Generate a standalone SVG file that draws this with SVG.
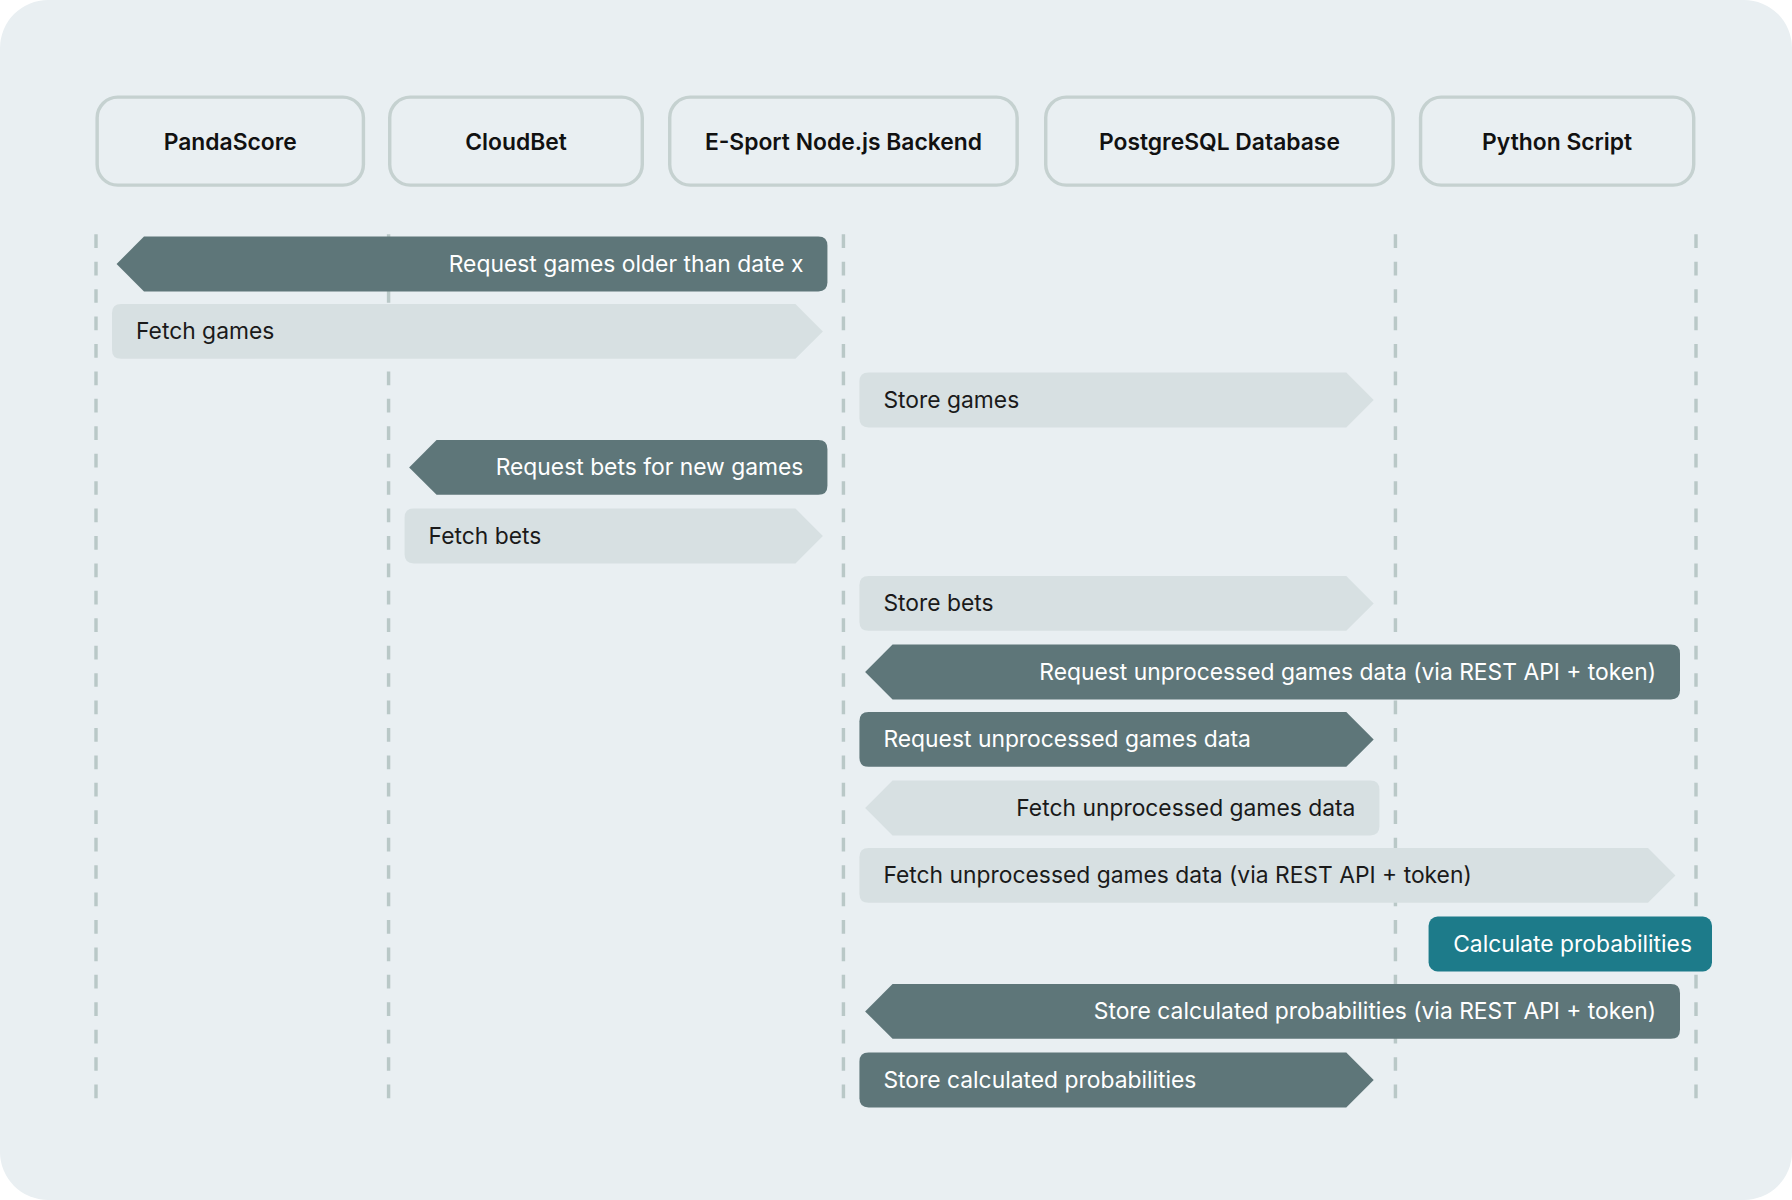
<svg xmlns="http://www.w3.org/2000/svg" width="1792" height="1200" viewBox="0 0 1792 1200">
<style>
.hdr{fill:none;stroke:#c5d1d0;stroke-width:3}
.ht{font-family:Inter,"Liberation Sans",sans-serif;font-size:20px;font-weight:600;fill:#111;text-anchor:middle}
.life{stroke:#b9c8c7;stroke-width:3;stroke-dasharray:12 12}
.dk{fill:#5e7679}
.lt{fill:#d7e0e2}
.tl{fill:#1d7b8a}
.t{font-family:Inter,"Liberation Sans",sans-serif;font-size:20px}
.w{fill:#fff}
.b{fill:#1a1a1a}
</style>
<rect width="1792" height="1200" fill="#fff"/>
<g transform="scale(1.142857)">
<rect x="0" y="0" width="1568" height="1050" rx="42" fill="#e9eff2"/>
<g id="n1"><rect class="hdr" x="85" y="85" width="233" height="77" rx="18"/><text class="ht" x="201.5" y="131">PandaScore</text></g>
<g id="n2"><rect class="hdr" x="341" y="85" width="221" height="77" rx="18"/><text class="ht" x="451.5" y="131">CloudBet</text></g>
<g id="n3"><rect class="hdr" x="586" y="85" width="304" height="77" rx="18"/><text class="ht" x="738" y="131">E-Sport Node.js Backend</text></g>
<g id="n4"><rect class="hdr" x="915" y="85" width="304" height="77" rx="18"/><text class="ht" x="1067" y="131">PostgreSQL Database</text></g>
<g id="n5"><rect class="hdr" x="1243" y="85" width="239" height="77" rx="18"/><text class="ht" x="1362.5" y="131">Python Script</text></g>
<g id="connectors">
<line class="life" x1="84" y1="205" x2="84" y2="968"/>
<line class="life" x1="340" y1="205" x2="340" y2="968"/>
<line class="life" x1="738" y1="205" x2="738" y2="968"/>
<line class="life" x1="1221" y1="205" x2="1221" y2="968"/>
<line class="life" x1="1484" y1="205" x2="1484" y2="968"/>
<!-- left-pointing: M x1,c L x1+24,c-24 H x2-8 Q x2,c-24 x2,c-16 V c+16 Q x2,c+24 x2-8,c+24 H x1+24 Z -->
<path class="dk" d="M102,231 L126,207 H716 Q724,207 724,215 V247 Q724,255 716,255 H126 Z"/>
<text class="t w" x="703" y="238" text-anchor="end">Request games older than date x</text>
<path class="lt" d="M106,266 H696 L720,290 L696,314 H106 Q98,314 98,306 V274 Q98,266 106,266 Z"/>
<text class="t b" x="119" y="297">Fetch games</text>
<path class="lt" d="M760,326 H1178 L1202,350 L1178,374 H760 Q752,374 752,366 V334 Q752,326 760,326 Z"/>
<text class="t b" x="773" y="357">Store games</text>
<path class="dk" d="M358,409 L382,385 H716 Q724,385 724,393 V425 Q724,433 716,433 H382 Z"/>
<text class="t w" x="703" y="416" text-anchor="end">Request bets for new games</text>
<path class="lt" d="M362,445 H696 L720,469 L696,493 H362 Q354,493 354,485 V453 Q354,445 362,445 Z"/>
<text class="t b" x="375" y="476">Fetch bets</text>
<path class="lt" d="M760,504 H1178 L1202,528 L1178,552 H760 Q752,552 752,544 V512 Q752,504 760,504 Z"/>
<text class="t b" x="773" y="535">Store bets</text>
<path class="dk" d="M757,588 L781,564 H1462 Q1470,564 1470,572 V604 Q1470,612 1462,612 H781 Z"/>
<text class="t w" x="1449" y="595" text-anchor="end">Request unprocessed games data (via REST API + token)</text>
<path class="dk" d="M760,623 H1178 L1202,647 L1178,671 H760 Q752,671 752,663 V631 Q752,623 760,623 Z"/>
<text class="t w" x="773" y="654">Request unprocessed games data</text>
<path class="lt" d="M757,707 L781,683 H1199 Q1207,683 1207,691 V723 Q1207,731 1199,731 H781 Z"/>
<text class="t b" x="1186" y="714" text-anchor="end">Fetch unprocessed games data</text>
<path class="lt" d="M760,742 H1442 L1466,766 L1442,790 H760 Q752,790 752,782 V750 Q752,742 760,742 Z"/>
<text class="t b" x="773" y="773">Fetch unprocessed games data (via REST API + token)</text>
<rect class="tl" x="1250" y="802" width="248" height="48" rx="8"/>
<text class="t w" x="1376" y="833" text-anchor="middle">Calculate probabilities</text>
<path class="dk" d="M757,885 L781,861 H1462 Q1470,861 1470,869 V901 Q1470,909 1462,909 H781 Z"/>
<text class="t w" x="1449" y="892" text-anchor="end">Store calculated probabilities (via REST API + token)</text>
<path class="dk" d="M760,921 H1178 L1202,945 L1178,969 H760 Q752,969 752,961 V929 Q752,921 760,921 Z"/>
<text class="t w" x="773" y="952">Store calculated probabilities</text>
</g>
</g>
</svg>
